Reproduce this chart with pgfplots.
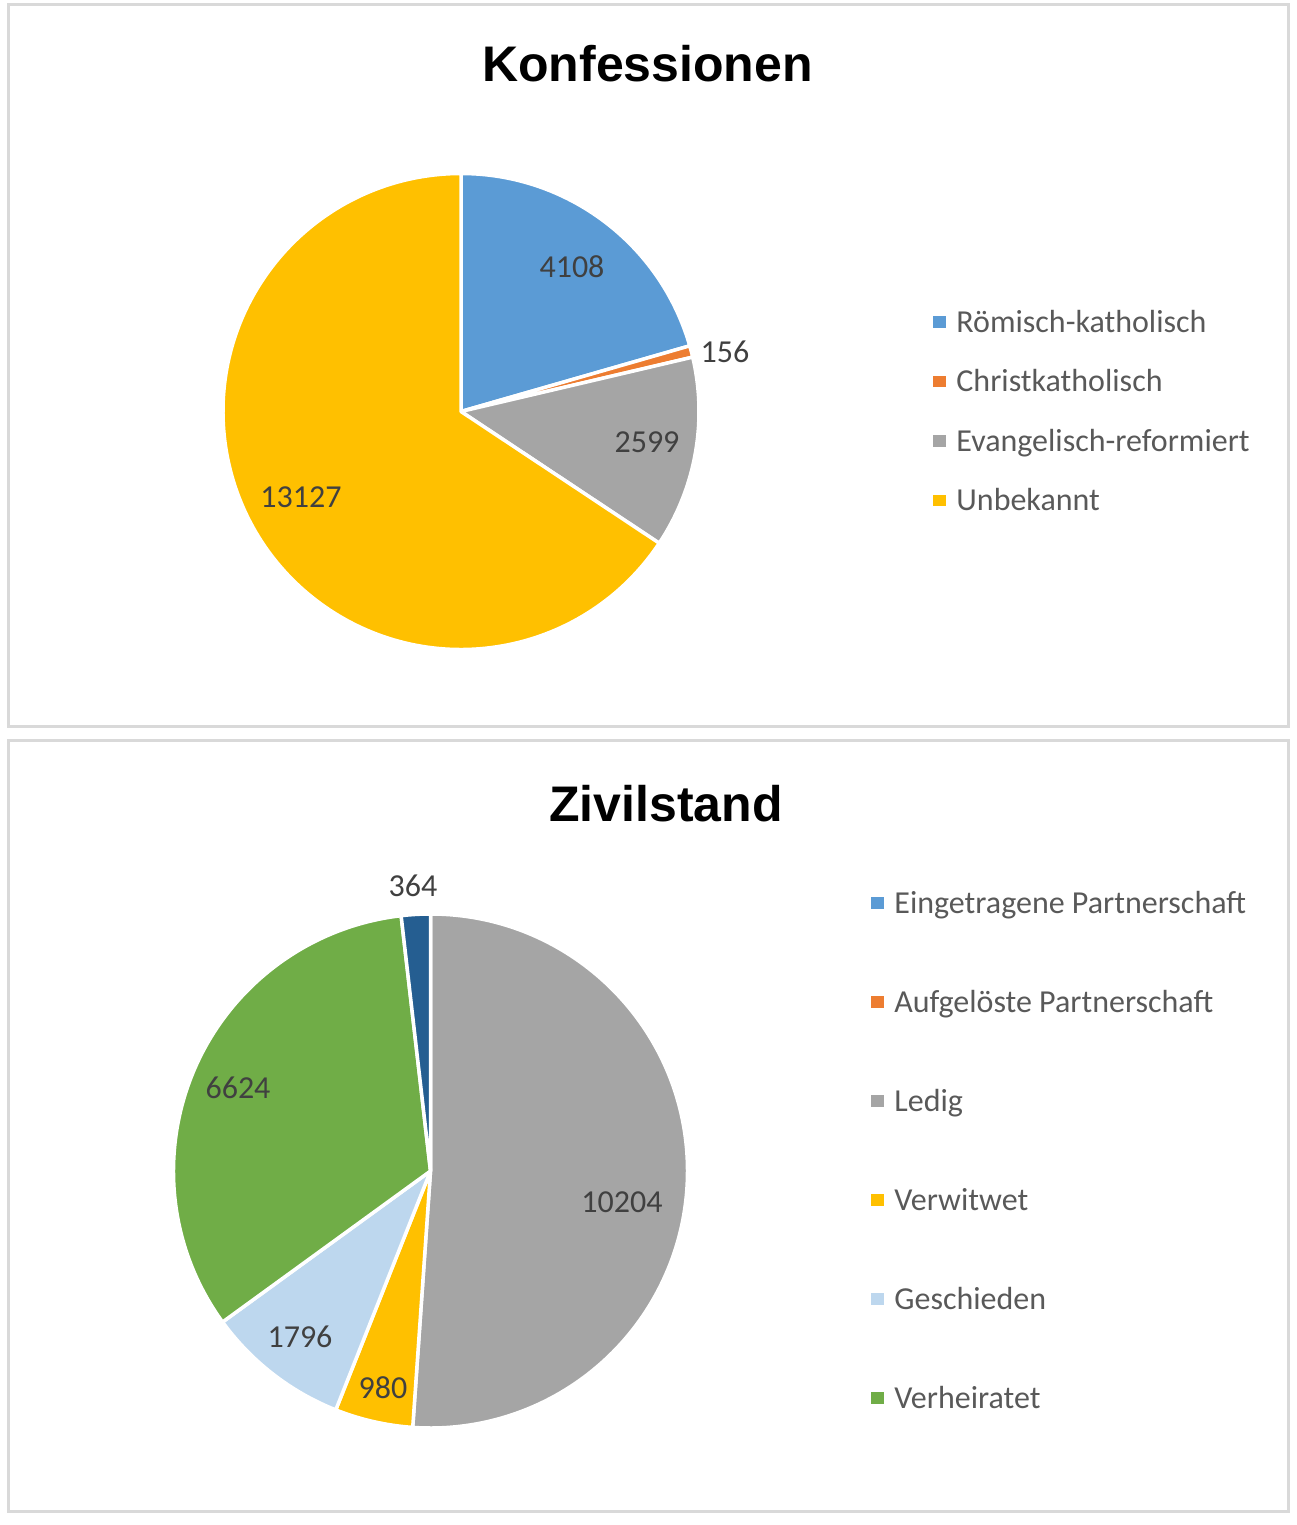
\documentclass[border=0pt]{standalone}
\usepackage{pgfplots}
\pgfplotsset{compat=1.18}
\usepackage{pgfplotstable}
\usepackage{fontspec}
\setmainfont{Carlito}
\newfontfamily\titlefont{Liberation Sans}

\definecolor{cBlue}{HTML}{5B9BD5}
\definecolor{cOrange}{HTML}{ED7D31}
\definecolor{cGray}{HTML}{A5A5A5}
\definecolor{cYellow}{HTML}{FFC000}
\definecolor{cLightBlue}{HTML}{BDD7EE}
\definecolor{cGreen}{HTML}{70AD47}
\definecolor{cDarkBlue}{HTML}{255E91}
\definecolor{cFrame}{HTML}{D9D9D9}
\definecolor{cLegText}{HTML}{595959}
\definecolor{cLabText}{HTML}{404040}

% value, slice colour, label position (px, y downward as negative)
\pgfplotstableread{
value color lx ly
4108 cBlue 572 -267
156 cOrange 725 -352
2599 cGray 647 -442
13127 cYellow 301 -497
}\konf

\pgfplotstableread{
value color lx ly
10204 cGray 622 -1202
980 cYellow 383 -1388
1796 cLightBlue 300 -1337
6624 cGreen 238 -1088
364 cDarkBlue 413 -886
}\zivil

\pgfdeclareplotmark{nothing}{}

\newcommand\coltotal[2]{%
  \gdef#2{0}%
  \pgfplotstableforeachcolumnelement{value}\of#1\as\cell{%
    \pgfkeys{/pgf/fpu=true,/pgf/fpu/output format=fixed}%
    \pgfmathparse{#2+\cell}\xdef#2{\pgfmathresult}%
    \pgfkeys{/pgf/fpu=false}}}

% builds one \addplot (a single point at the pie centre) per table row
\newcommand\buildpie[5]{% #1 table, #2 total, #3 cx, #4 cy, #5 radius
  \gdef\piecmds{}%
  \gdef\piecum{0}%
  \pgfplotstablegetrowsof{#1}%
  \pgfmathtruncatemacro\pielast{\pgfplotsretval-1}%
  \foreach \i in {0,...,\pielast}{%
    \pgfplotstablegetelem{\i}{value}\of#1\let\slval\pgfplotsretval
    \pgfplotstablegetelem{\i}{color}\of#1\let\slcol\pgfplotsretval
    \pgfkeys{/pgf/fpu=true,/pgf/fpu/output format=fixed}%
    \pgfmathparse{90-360*\piecum/#2}\let\angA\pgfmathresult
    \pgfmathparse{\piecum+\slval}\xdef\piecum{\pgfmathresult}%
    \pgfmathparse{90-360*\piecum/#2}\let\angB\pgfmathresult
    \pgfkeys{/pgf/fpu=false}%
    \xdef\piecmds{\expandafter\unexpanded\expandafter{\piecmds}%
      \noexpand\addplot[slice={\slcol}{\angA}{\angB}{#5}] coordinates {(#3,#4)};}%
  }}

\pgfplotsset{
  panel/.style={
    x=0.5pt, y=0.5pt, hide axis, clip=false, enlargelimits=false,
    xmin=0, xmax=1296,
  },
  slice/.style n args={4}{
    forget plot, only marks, mark=nothing, scatter, point meta=0,
    scatter/@pre marker code/.code={%
      \fill[#1, draw=white, line width=1.75pt, line join=round]
        (0pt,0pt) -- (#2:#4) arc[start angle=#2, end angle=#3, radius=#4] -- cycle;},
    scatter/@post marker code/.code={},
  },
  pie labels/.style={
    only marks, mark=nothing, forget plot,
    point meta=explicit symbolic,
    nodes near coords,
    every node near coord/.append style={anchor=center, font=\fontsize{16}{19}\selectfont, text=cLabText, inner sep=0pt},
  },
  pie legend/.style={
    legend cell align=left,
    legend style={draw=none, fill=none, inner sep=0pt, outer sep=0pt,
      anchor=north west, column sep=5.5pt, row sep=#1,
      font=\fontsize{16}{19}\selectfont, text=cLegText,
      nodes={inner sep=0pt, text height=14pt, text depth=4pt}},
  },
}

\newcommand\legsq[1]{\addlegendimage{legend image code/.code={\fill[#1] (0pt,-2.6pt) rectangle (5.8pt,2.6pt);}}}

\begin{document}
\begin{tikzpicture}
\useasboundingbox (0,0) rectangle (648pt,-762.5pt);

% ---------- Konfessionen ----------
\coltotal{\konf}{\konftotal}
\buildpie{\konf}{\konftotal}{461}{-411.5}{119pt}
\begin{axis}[panel, ymin=-733, ymax=0, at={(0,0)}, anchor=north west,
  pie legend=11.75pt,
  legend style={at={(axis cs:933,-304)}}]
  \draw[cFrame, line width=1.5pt] (axis cs:8,-5) rectangle (axis cs:1288,-726);
  \node[font=\titlefont\bfseries\fontsize{25}{30}\selectfont, anchor=base] at (axis cs:647.5,-81) {Konfessionen};
  \piecmds
  \addplot[pie labels] table[x=lx, y=ly, meta=value] {\konf};
  \legsq{cBlue}\addlegendentry{Römisch-katholisch}
  \legsq{cOrange}\addlegendentry{Christkatholisch}
  \legsq{cGray}\addlegendentry{Evangelisch-reformiert}
  \legsq{cYellow}\addlegendentry{Unbekannt}
\end{axis}

% ---------- Zivilstand ----------
\coltotal{\zivil}{\ziviltotal}
\buildpie{\zivil}{\ziviltotal}{430.5}{-1171}{128.5pt}
\begin{axis}[panel, ymin=-1525, ymax=-733, at={(0,-366.5pt)}, anchor=north west,
  pie legend=31.5pt,
  legend style={at={(axis cs:871,-885)}}]
  \draw[cFrame, line width=1.5pt] (axis cs:8,-740) rectangle (axis cs:1288,-1511);
  \node[font=\titlefont\bfseries\fontsize{25}{30}\selectfont, anchor=base] at (axis cs:666,-821.5) {Zivilstand};
  \piecmds
  \addplot[pie labels] table[x=lx, y=ly, meta=value] {\zivil};
  \legsq{cBlue}\addlegendentry{Eingetragene Partnerschaft}
  \legsq{cOrange}\addlegendentry{Aufgelöste Partnerschaft}
  \legsq{cGray}\addlegendentry{Ledig}
  \legsq{cYellow}\addlegendentry{Verwitwet}
  \legsq{cLightBlue}\addlegendentry{Geschieden}
  \legsq{cGreen}\addlegendentry{Verheiratet}
\end{axis}
\end{tikzpicture}
\end{document}
